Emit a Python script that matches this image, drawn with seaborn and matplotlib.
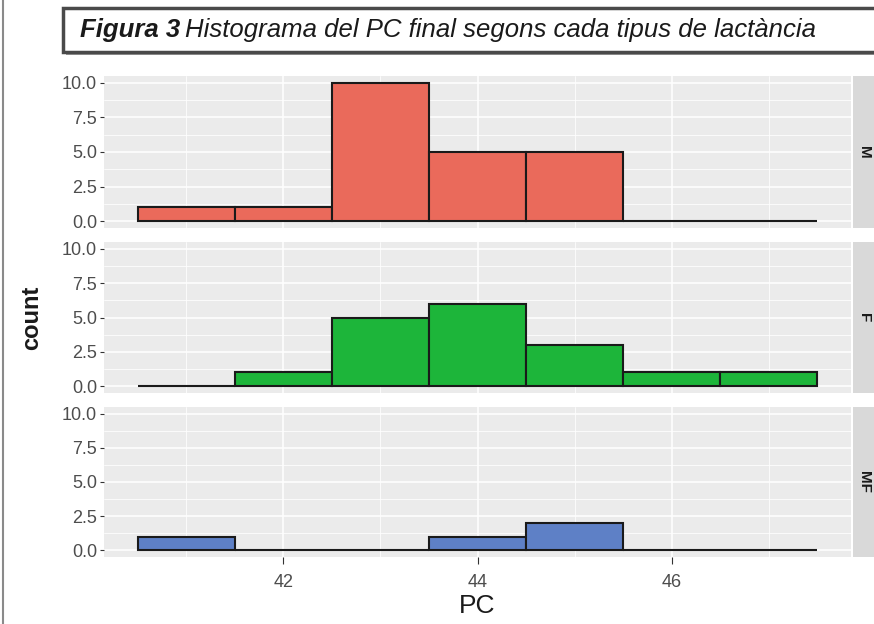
import matplotlib
matplotlib.use("Agg")
import matplotlib.pyplot as plt
from matplotlib.patches import Rectangle
from matplotlib.lines import Line2D
from matplotlib.ticker import MultipleLocator
import numpy as np
import seaborn as sns

# Histogram bins (width 1 around each PC value) and counts per lactation type
bin_edges = [40.5, 41.5, 42.5, 43.5, 44.5, 45.5, 46.5, 47.5]
bin_centers = [41, 42, 43, 44, 45, 46, 47]
groups = ["M", "F", "MF"]
counts_M = [1, 1, 10, 5, 5, 0, 0]
counts_F = [0, 1, 5, 6, 3, 1, 1]
counts_MF = [1, 0, 0, 1, 2, 0, 0]
group_counts = [counts_M, counts_F, counts_MF]
group_colors = ["#EA6A5B", "#1DB53A", "#5E80C6"]

x_ticks = [42, 44, 46]
y_ticks = [0.0, 2.5, 5.0, 7.5, 10.0]

sns.set_theme(style="darkgrid")
plt.rcParams["font.family"] = ["Liberation Sans", "DejaVu Sans"]

W, H = 874, 624
fig = plt.figure(figsize=(W / 100, H / 100), dpi=100)
fig.patch.set_facecolor("white")

def fbox(x0, y0, x1, y1):
    return [x0 / W, 1 - y1 / H, (x1 - x0) / W, (y1 - y0) / H]

panel_rows = [(76, 228), (242, 393), (407, 557)]
px0, px1 = 104, 851

axes = []
for i, (grp, cnts, col) in enumerate(zip(groups, group_counts, group_colors)):
    y0, y1 = panel_rows[i]
    ax = fig.add_axes(fbox(px0, y0, px1, y1))
    ax.set_facecolor("#EBEBEB")
    sns.histplot(x=bin_centers, weights=cnts, bins=bin_edges, ax=ax,
                 color=col, alpha=1.0, edgecolor="#1A1A1A", linewidth=1.5,
                 stat="count")
    ax.set_xlim(40.15, 47.85)
    ax.set_ylim(-0.5, 10.5)
    ax.set_yticks(y_ticks)
    ax.set_yticklabels([f"{v:.1f}" for v in y_ticks])
    ax.xaxis.set_minor_locator(MultipleLocator(1))
    ax.yaxis.set_minor_locator(MultipleLocator(1.25))
    ax.set_xticks(x_ticks)
    ax.grid(which="major", color="white", linewidth=1.1)
    ax.grid(which="minor", color="white", linewidth=0.55)
    ax.set_axisbelow(True)
    for s in ax.spines.values():
        s.set_visible(False)
    ax.tick_params(axis="both", which="major", length=3, width=0.8,
                   color="#333333", labelcolor="#4D4D4D", labelsize=13,
                   pad=2, left=True, bottom=True)
    ax.tick_params(axis="x", length=5, pad=7)
    ax.tick_params(which="minor", length=0)
    ax.set_ylabel("")
    ax.set_xlabel("")
    if i < 2:
        ax.tick_params(axis="x", labelbottom=False, bottom=False)
    axes.append(ax)

    # facet strip on the right
    sax = fig.add_axes(fbox(853, y0, 880, y1))
    sax.set_facecolor("#D9D9D9")
    sax.set_xticks([])
    sax.set_yticks([])
    for s in sax.spines.values():
        s.set_visible(False)
    fig.text(864 / W, 1 - (y0 + y1) / 2 / H, grp, rotation=-90,
             ha="center", va="center", fontsize=11, color="#1A1A1A",
             fontweight="bold", zorder=5)

# axis titles
fig.text(32 / W, 1 - 318 / H, "count", rotation=90, ha="center", va="center",
         fontsize=17, fontweight="bold", color="#1A1A1A")
fig.text(477 / W, 1 - 606 / H, "PC", ha="center", va="center",
         fontsize=19, color="#1A1A1A")

# caption box
fig.patches.append(Rectangle((66 / W, 1 - 55 / H), 830 / W, 46 / H,
                             transform=fig.transFigure, facecolor="#9A9A9A",
                             edgecolor="none", zorder=0))
fig.patches.append(Rectangle((63 / W, 1 - 52 / H), 830 / W, 44 / H,
                             transform=fig.transFigure, facecolor="white",
                             edgecolor="#4A4A4A", linewidth=2.5, zorder=1))
t1 = fig.text(80 / W, 1 - 30 / H, "Figura 3", ha="left", va="center",
              fontsize=18.5, fontweight="bold", fontstyle="italic",
              color="#1A1A1A", zorder=3)
fig.canvas.draw()
bb = t1.get_window_extent(renderer=fig.canvas.get_renderer())
fig.text((bb.x1 + 5) / W, 1 - 30 / H,
         "Histograma del PC final segons cada tipus de lactància",
         ha="left", va="center", fontsize=18.5, fontstyle="italic",
         color="#1A1A1A", zorder=3)

# thin frame line on the left edge
fig.lines.append(Line2D([3 / W, 3 / W], [0, 1], transform=fig.transFigure,
                        color="#8A8A8A", linewidth=1.5))

fig.savefig("out.png", dpi=100)
